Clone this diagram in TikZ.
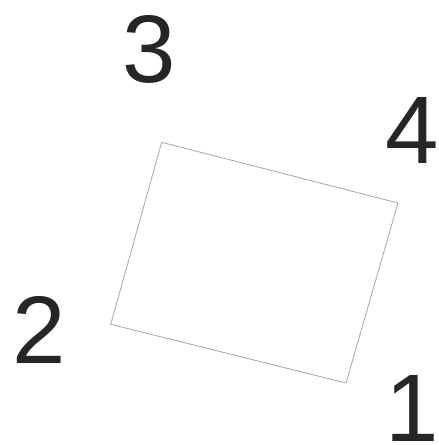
\documentclass[tikz,border=0pt]{standalone}
\usepackage{fontspec}
\setmainfont{Liberation Sans}
\begin{document}
\begin{tikzpicture}[x=1pt,y=-1pt,
  numlabel/.style={anchor=base,inner sep=0pt,outer sep=0pt,text=black!85,font=\fontsize{96}{96}\selectfont},
  frame/.style={draw=black!35,line width=0.8pt,line join=miter}]
\useasboundingbox (0,0) rectangle (439,445);
\coordinate (c3) at (161.7,142.3);
\coordinate (c4) at (398,203);
\coordinate (c1) at (346,383);
\coordinate (c2) at (110.7,324.3);
\draw[frame] (c3) -- (c4) -- (c1) -- (c2) -- cycle;
\node[numlabel] (l3) at (149,82) {3};
\node[numlabel] (l4) at (412,163) {4};
\node[numlabel] (l2) at (39,363) {2};
\node[numlabel] (l1) at (412,441) {1};
\end{tikzpicture}
\end{document}
